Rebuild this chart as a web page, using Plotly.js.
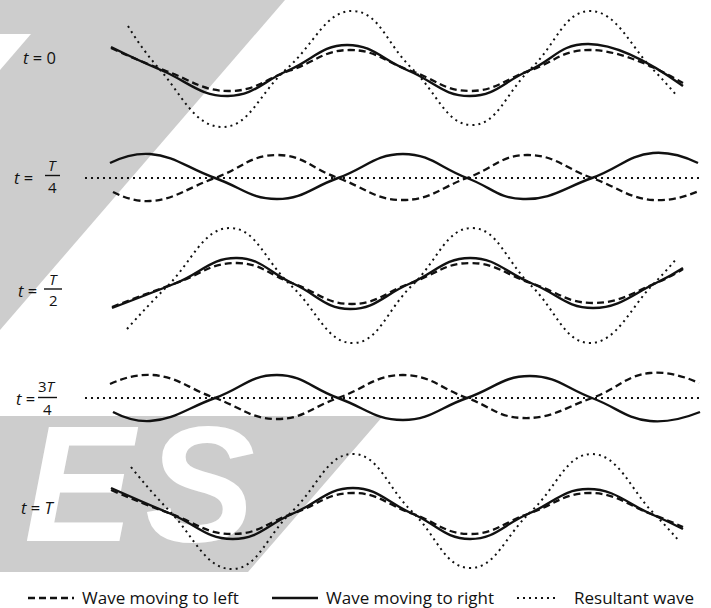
<!DOCTYPE html>
<html>
<head>
<meta charset="utf-8">
<script src="https://cdn.plot.ly/plotly-3.0.1.min.js"></script>
<style>html,body{margin:0;padding:0;background:#fff}#chart{width:711px;height:608px}</style>
</head>
<body>
<div id="chart"></div>
<script>
// ---------- data (x: position along string, y: displacement) ----------
// t = 0
const t0_right_x = [0.04, 2.08, 4.72, 7.12, 9.48, 11.92, 14.4, 16.76, 19.12, 22.92];
const t0_right_y = [2.3, -0.05, -2.6, -0.05, 2.5, -0.05, -2.6, -0.05, 2.6, -1.6];
const t0_left_x  = [0.04, 2.2, 4.8, 7.2, 9.6, 12.0, 14.4, 16.8, 19.2, 22.92];
const t0_left_y  = [2.2, -0.05, -2.1, -0.05, 2.0, -0.05, -2.1, -0.05, 2.0, -1.3];
const t0_res_x   = [0.72, 1.96, 4.48, 7.08, 9.72, 12.08, 14.48, 16.84, 19.2, 21.68, 22.68];
const t0_res_y   = [4.4, 0.15, -5.7, 0.15, 5.9, 0.15, -5.5, 0.15, 5.9, 0.15, -2.6];
// t = T/4
const t1_right_x = [0, 1.6, 4.2, 6.68, 9.12, 11.72, 14.28, 16.52, 19.28, 21.72, 23.52];
const t1_right_y = [1.5, 2.4, 0, -2.1, 0, 2.4, 0, -2.1, 0, 2.5, 1.5];
const t1_left_x  = [0.12, 1.6, 4.2, 6.68, 9.12, 11.72, 14.28, 16.68, 19.28, 21.72, 23.56];
const t1_left_y  = [-1.4, -2.3, 0, 2.3, 0, -2.2, 0, 2.3, 0, -2.2, -1.3];
const t1_res_x   = [-1.0, 23.72];
const t1_res_y   = [0, 0];
// t = T/2
const t2_right_x = [0.08, 2.6, 5.08, 7.32, 9.6, 12.0, 14.4, 16.88, 19.32, 21.8, 22.92];
const t2_right_y = [-2.4, 0.05, 2.6, 0.05, -2.5, 0.05, 2.6, 0.05, -2.4, 0.05, 1.6];
const t2_left_x  = [0.08, 2.6, 5.08, 7.32, 9.68, 12.0, 14.4, 16.88, 19.32, 21.8, 22.92];
const t2_left_y  = [-2.3, 0.05, 2.1, 0.05, -2.0, 0.05, 2.1, 0.05, -1.9, 0.05, 1.5];
const t2_res_x   = [0.68, 2.32, 4.8, 7.24, 9.72, 12.08, 14.48, 16.84, 19.2, 21.68, 22.68];
const t2_res_y   = [-4.5, -0.15, 5.6, -0.15, -5.9, -0.15, 5.6, -0.15, -5.9, -0.15, 2.6];
// t = 3T/4
const t3_right_x = [0.12, 1.6, 4.2, 6.68, 9.12, 11.72, 14.28, 16.8, 19.28, 21.6, 23.6];
const t3_right_y = [-1.4, -2.3, 0, 2.3, 0, -2.2, 0, 2.2, 0, -2.3, -1.4];
const t3_left_x  = [0, 1.72, 4.2, 6.68, 9.12, 11.72, 14.28, 16.52, 19.28, 21.6, 23.56];
const t3_left_y  = [1.4, 2.3, 0, -2.1, 0, 2.3, 0, -2.0, 0, 2.5, 1.5];
const t3_res_x   = [-1.0, 23.72];
const t3_res_y   = [0, 0];
// t = T
const t4_right_x = [0.04, 2.4, 4.92, 7.32, 9.72, 12.08, 14.4, 16.76, 19.12, 21.6, 22.92];
const t4_right_y = [2.4, -0.15, -2.7, -0.15, 2.4, -0.15, -2.7, -0.15, 2.3, -0.15, -1.7];
const t4_left_x  = [0.04, 2.4, 4.92, 7.32, 9.72, 12.08, 14.4, 16.76, 19.2, 21.6, 22.92];
const t4_left_y  = [2.2, -0.15, -2.2, -0.15, 1.9, -0.15, -2.2, -0.15, 1.9, -0.15, -1.5];
const t4_res_x   = [0.84, 2.4, 4.88, 7.28, 9.72, 12.08, 14.4, 16.84, 19.28, 21.68, 22.76];
const t4_res_y   = [4.5, 0.05, -5.7, 0.05, 5.8, 0.05, -5.6, 0.05, 5.8, 0.05, -2.9];

const legendNames = ['Wave moving to left', 'Wave moving to right', 'Resultant wave'];
const watermarkLetters = ['T', 'E', 'S'];

// ---------- layout helpers ----------
const W = 711, H = 608;
const px = p => p / W;
const py = p => 1 - p / H;
const rowCenters = [70, 178, 284, 398, 512];
const half = 62;

const styles = {
  left:  {color: '#111', width: 2.3, dash: '7px,4px'},
  right: {color: '#111', width: 2.4, dash: 'solid'},
  res:   {color: '#111', width: 2.0, dash: '2px,4px'}
};

const rows = [
  [t0_left_x, t0_left_y, t0_right_x, t0_right_y, t0_res_x, t0_res_y],
  [t1_left_x, t1_left_y, t1_right_x, t1_right_y, t1_res_x, t1_res_y],
  [t2_left_x, t2_left_y, t2_right_x, t2_right_y, t2_res_x, t2_res_y],
  [t3_left_x, t3_left_y, t3_right_x, t3_right_y, t3_res_x, t3_res_y],
  [t4_left_x, t4_left_y, t4_right_x, t4_right_y, t4_res_x, t4_res_y]
];

const traces = [];
// watermark letters (drawn first, below the waves)
traces.push({
  type: 'scatter', mode: 'text', xaxis: 'x', yaxis: 'y',
  x: [-6.48, -1.24, 3.6], y: [500, 500, 500],
  text: watermarkLetters, textposition: 'middle center', cliponaxis: false,
  textfont: {family: 'Liberation Sans', size: 165, color: '#ffffff', weight: 'bold', style: 'italic'},
  hoverinfo: 'skip', showlegend: false
});

const layout = {
  width: W, height: H,
  margin: {l: 0, r: 0, t: 0, b: 0},
  paper_bgcolor: '#ffffff', plot_bgcolor: 'rgba(0,0,0,0)',
  showlegend: false,
  xaxis: {domain: [0, 1], range: [-4.4, 24.04], visible: false, fixedrange: true},
  yaxis: {domain: [0, 1], range: [H, 0], visible: false, fixedrange: true},
  shapes: [], annotations: []
};

rows.forEach((r, i) => {
  const ya = 'y' + (i + 2);
  const c = rowCenters[i];
  layout['yaxis' + (i + 2)] = {
    domain: [py(c + half), py(c - half)], range: [-6.2, 6.2],
    anchor: 'x', visible: false, fixedrange: true
  };
  const sets = [[r[4], r[5], styles.res], [r[0], r[1], styles.left], [r[2], r[3], styles.right]];
  sets.forEach(s => traces.push({
    type: 'scatter', mode: 'lines', x: s[0], y: s[1], xaxis: 'x', yaxis: ya,
    line: {color: s[2].color, width: s[2].width, dash: s[2].dash, shape: 'spline', smoothing: 1.3},
    hoverinfo: 'skip', showlegend: false
  }));
});

// gray watermark background
const poly = pts => 'M ' + pts.map(p => px(p[0]).toFixed(5) + ',' + py(p[1]).toFixed(5)).join(' L ') + ' Z';
layout.shapes.push({type: 'path', xref: 'paper', yref: 'paper', layer: 'below', line: {width: 0},
  fillcolor: '#cdcdcd', path: poly([[0, 0], [285, 0], [0, 330]])});
layout.shapes.push({type: 'path', xref: 'paper', yref: 'paper', layer: 'below', line: {width: 0},
  fillcolor: '#ffffff', path: poly([[0, 34], [31, 34], [0, 70]])});
layout.shapes.push({type: 'path', xref: 'paper', yref: 'paper', layer: 'below', line: {width: 0},
  fillcolor: '#cdcdcd', path: poly([[0, 416], [383, 416], [248, 572], [0, 572]])});

// row labels
const lblFont = {family: 'Open Sans', size: 16.5, color: '#111'};
const fracFont = {family: 'Open Sans', size: 15, color: '#111'};
const ann = (x, y, text, font, xanchor) => layout.annotations.push({
  xref: 'paper', yref: 'paper', x: px(x), y: py(y), text: text, showarrow: false,
  xanchor: xanchor || 'center', yanchor: 'middle', font: font, borderpad: 0
});
const bar = (x0, x1, y) => layout.shapes.push({type: 'line', xref: 'paper', yref: 'paper',
  x0: px(x0), x1: px(x1), y0: py(y), y1: py(y), line: {color: '#111', width: 1.4}});

ann(39, 57, '<i>t</i> = 0', lblFont);
ann(23, 177, '<i>t</i> =', lblFont); ann(52, 165, '<i>T</i>', fracFont); bar(45, 60, 175.5); ann(52, 187, '4', fracFont);
ann(27, 290, '<i>t</i> =', lblFont); ann(53, 279, '<i>T</i>', fracFont); bar(44, 62, 289); ann(53, 300, '2', fracFont);
ann(25, 398, '<i>t</i> =', lblFont); ann(47, 386, '3<i>T</i>', fracFont); bar(38, 57, 397.5); ann(47, 409, '4', fracFont);
ann(37, 507, '<i>t</i> = <i>T</i>', lblFont);

// legend
const legFont = {family: 'Open Sans', size: 17, color: '#111'};
const legLine = (x0, x1, st) => layout.shapes.push({type: 'line', xref: 'paper', yref: 'paper',
  x0: px(x0), x1: px(x1), y0: py(598), y1: py(598), line: {color: st.color, width: st.width, dash: st.dash}});
legLine(28, 74, styles.left);   ann(81, 597, legendNames[0], legFont, 'left');
legLine(272, 318, styles.right); ann(325, 597, legendNames[1], legFont, 'left');
legLine(517, 559, styles.res);   ann(573, 597, legendNames[2], legFont, 'left');

Plotly.newPlot('chart', traces, layout, {displayModeBar: false, staticPlot: true});
</script>
</body>
</html>
